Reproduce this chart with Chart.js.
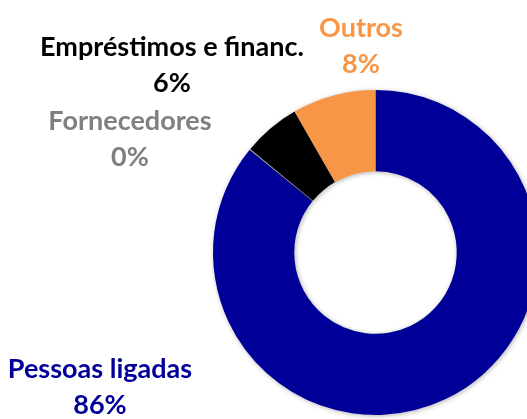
<!DOCTYPE html>
<html lang="pt">
<head>
    <meta charset="UTF-8">
    <title>Composição</title>
    <script src="https://cdn.jsdelivr.net/npm/chart.js@4.4.0/dist/chart.umd.min.js"></script>
    <style>
        body { margin: 0; background: #fff; }
        #wrap { width: 527px; height: 419px; overflow: hidden; position: relative; }
    </style>
</head>
<body>
    <div id="wrap">
        <canvas id="chart" width="600" height="500"></canvas>
    </div>

    <script>
        const categories = ['Pessoas ligadas', 'Fornecedores', 'Empréstimos e financ.', 'Outros'];
        const shares = [85.9, 0.1, 5.7, 8.3];
        const shareLabels = ['86%', '0%', '6%', '8%'];
        const sliceColors = ['#000099', '#B0B0B0', '#000000', '#F79646'];
        const labelColors = ['#000099', '#808080', '#000000', '#F79646'];
        // where each label block sits (center x, first baseline y)
        const labelSpots = [[100, 378], [130, 130], [172, 56], [361, 37]];

        const labelPlugin = {
            id: 'outsideLabels',
            afterDraw(chart) {
                const ctx = chart.ctx;
                ctx.save();
                ctx.font = 'bold 27px Lato';
                ctx.textAlign = 'center';
                ctx.textBaseline = 'alphabetic';
                categories.forEach((name, i) => {
                    const [x, y] = labelSpots[i];
                    ctx.fillStyle = labelColors[i];
                    ctx.fillText(name, x, y);
                    ctx.fillText(shareLabels[i], x, y + 36);
                });
                ctx.restore();
            }
        };

        const shadowPlugin = {
            id: 'ringShadow',
            beforeDatasetsDraw(chart) {
                const ctx = chart.ctx;
                ctx.save();
                ctx.shadowColor = 'rgba(0,0,0,0.3)';
                ctx.shadowBlur = 5;
                ctx.shadowOffsetX = 1;
                ctx.shadowOffsetY = 1;
            },
            afterDatasetsDraw(chart) {
                chart.ctx.restore();
            }
        };

        new Chart(document.getElementById('chart'), {
            type: 'doughnut',
            data: {
                labels: categories,
                datasets: [{
                    data: shares,
                    backgroundColor: sliceColors,
                    borderWidth: 0,
                    hoverOffset: 0,
                    offset: 0
                }]
            },
            options: {
                responsive: false,
                animation: false,
                cutout: '50%',
                layout: { padding: { left: 213, top: 90, right: 62, bottom: 85 } },
                plugins: {
                    legend: { display: false },
                    tooltip: { enabled: false }
                }
            },
            plugins: [shadowPlugin, labelPlugin]
        });
    </script>
</body>
</html>
